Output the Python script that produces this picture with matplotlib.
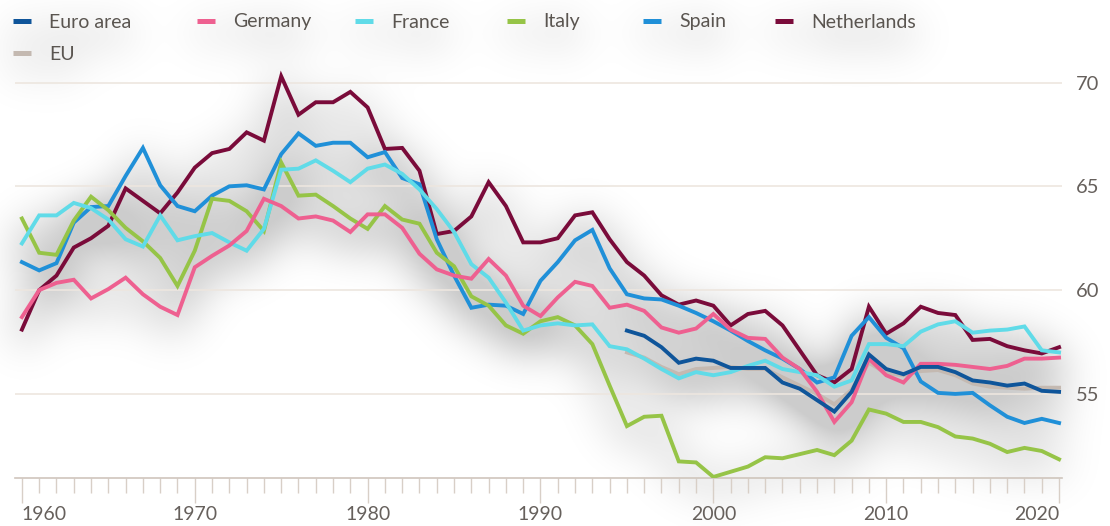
import matplotlib
matplotlib.use('Agg')
import matplotlib.pyplot as plt
from matplotlib.lines import Line2D
from matplotlib.ticker import MultipleLocator
import numpy as np

plt.rcParams['font.family'] = ['Lato', 'DejaVu Sans']

# ---------------------------------------------------------------------------
# dados
# ---------------------------------------------------------------------------
anos = list(range(1960, 2021))
anos_euro = list(range(1995, 2021))

netherlands = [58.1, 60.0, 60.7, 62.05, 62.5, 63.1, 64.9, 64.3, 63.7, 64.7,
               65.9, 66.6, 66.8, 67.6, 67.2, 70.3, 68.45, 69.05, 69.05, 69.55,
               68.8, 66.8, 66.85, 65.75, 62.7, 62.85, 63.55, 65.2, 64.05, 62.3,
               62.3, 62.5, 63.6, 63.75, 62.45, 61.35, 60.7, 59.75, 59.3, 59.5,
               59.25, 58.3, 58.85, 59.0, 58.3, 57.1, 55.9, 55.55, 56.2, 59.2,
               57.9, 58.4, 59.2, 58.9, 58.8, 57.6, 57.65, 57.3, 57.1, 56.95, 57.25]

spain = [61.35, 60.95, 61.3, 63.25, 64.0, 64.05, 65.5, 66.85, 65.05, 64.05,
         63.8, 64.55, 65.0, 65.05, 64.85, 66.55, 67.55, 66.95, 67.1, 67.1,
         66.4, 66.65, 65.4, 65.1, 62.45, 60.7, 59.15, 59.3, 59.25, 58.85,
         60.45, 61.35, 62.4, 62.9, 61.05, 59.8, 59.6, 59.55, 59.25, 58.9,
         58.5, 58.05, 57.55, 57.1, 56.7, 56.2, 55.55, 55.8, 57.8, 58.7,
         57.7, 57.2, 55.6, 55.05, 55.0, 55.05, 54.45, 53.9, 53.6, 53.8, 53.6]

italy = [63.45, 61.8, 61.7, 63.35, 64.5, 63.85, 63.0, 62.35, 61.55, 60.2,
         61.9, 64.4, 64.3, 63.8, 62.85, 66.15, 64.55, 64.6, 64.05, 63.45,
         62.95, 64.05, 63.4, 63.2, 61.8, 61.15, 59.7, 59.25, 58.3, 57.9,
         58.5, 58.7, 58.3, 57.4, 55.4, 53.45, 53.9, 53.95, 51.75, 51.7,
         51.0, 51.25, 51.5, 51.95, 51.9, 52.1, 52.3, 52.05, 52.75, 54.25,
         54.05, 53.65, 53.65, 53.4, 52.95, 52.85, 52.6, 52.2, 52.4, 52.25, 51.85]

france = [62.25, 63.6, 63.6, 64.2, 63.95, 63.4, 62.45, 62.1, 63.6, 62.4,
          62.6, 62.75, 62.3, 61.9, 62.95, 65.8, 65.85, 66.25, 65.75, 65.2,
          65.85, 66.05, 65.6, 64.85, 63.9, 62.8, 61.25, 60.6, 59.4, 58.05,
          58.3, 58.4, 58.3, 58.35, 57.3, 57.15, 56.7, 56.2, 55.75, 56.05,
          55.9, 56.05, 56.35, 56.6, 56.2, 56.05, 55.9, 55.35, 55.65, 57.4,
          57.4, 57.3, 58.0, 58.35, 58.5, 57.95, 58.05, 58.1, 58.25, 57.1, 57.0]

germany = [58.7, 60.0, 60.35, 60.5, 59.6, 60.05, 60.6, 59.8, 59.2, 58.8,
           61.1, 61.65, 62.15, 62.85, 64.4, 64.05, 63.45, 63.55, 63.35, 62.8,
           63.65, 63.65, 63.0, 61.75, 61.0, 60.7, 60.55, 61.5, 60.7, 59.25,
           58.75, 59.65, 60.4, 60.2, 59.15, 59.3, 59.0, 58.2, 57.95, 58.15,
           58.85, 58.1, 57.7, 57.65, 56.75, 56.2, 55.1, 53.65, 54.6, 56.7,
           55.9, 55.55, 56.45, 56.45, 56.4, 56.3, 56.2, 56.35, 56.7, 56.7, 56.75]

euro_area = [58.05, 57.8, 57.25, 56.5, 56.7, 56.6, 56.25, 56.25, 56.25, 55.55,
             55.25, 54.7, 54.15, 55.1, 56.9, 56.2, 55.95, 56.3, 56.3, 56.05,
             55.65, 55.55, 55.4, 55.5, 55.15, 55.1]

eu = [57.0, 56.75, 56.3, 55.95, 56.2, 56.25, 56.3, 56.2, 56.2, 55.8,
      55.4, 55.0, 54.5, 55.2, 56.5, 56.0, 55.9, 56.1, 56.15, 55.9,
      55.5, 55.35, 55.3, 55.25, 55.3, 55.3]

y_ticks = [55, 60, 65, 70]
x_ticks = [1960, 1970, 1980, 1990, 2000, 2010, 2020]

# ---------------------------------------------------------------------------
# estilo
# ---------------------------------------------------------------------------
cores = {
    'Euro area': '#0f559a',
    'Germany': '#ee6090',
    'France': '#60dbe8',
    'Italy': '#96c447',
    'Spain': '#2090d8',
    'Netherlands': '#7a0b3a',
    'EU': '#c4b9b1',
}
cor_texto = '#66605c'
cor_grade = '#ede6df'

series = [
    ('EU', anos_euro, eu),
    ('Netherlands', anos, netherlands),
    ('Spain', anos, spain),
    ('Italy', anos, italy),
    ('France', anos, france),
    ('Germany', anos, germany),
    ('Euro area', anos_euro, euro_area),
]

legenda = [('Euro area', 13, 22), ('Germany', 197, 22), ('France', 355, 22),
           ('Italy', 507, 22), ('Spain', 643, 22), ('Netherlands', 775, 22),
           ('EU', 13, 54)]

W, H = 1110, 526
RECT = [15 / W, 1 - 478 / H, (1062 - 15) / W, (478 - 68) / H]


def desenhar_linhas(fig, ax, preto=False):
    for i, (nome, xs, ys) in enumerate(series):
        ax.plot(xs, ys, color='black' if preto else cores[nome], linewidth=2.8,
                solid_joinstyle='miter', zorder=3 + i)
    ax.set_xlim(1959.6, 2020.17)
    ax.set_ylim(50.95, 70.7)
    for nome, px, py in legenda:
        h = Line2D([], [], color='black' if preto else cores[nome],
                   linewidth=3.6, solid_capstyle='butt')
        fig.legend([h], [nome], loc='center left',
                   bbox_to_anchor=(px / W, 1 - py / H), frameon=False,
                   borderpad=0, borderaxespad=0, handlelength=0.9,
                   handletextpad=0.95, fontsize=14,
                   labelcolor='black' if preto else '#5a5550')


def desfocar(img, sigma):
    h, w = img.shape
    fy = np.fft.fftfreq(h)
    fx = np.fft.fftfreq(w)
    ky = np.exp(-0.5 * (2 * np.pi * fy * sigma) ** 2)
    kx = np.exp(-0.5 * (2 * np.pi * fx * sigma) ** 2)
    return np.real(np.fft.ifft2(np.fft.fft2(img) * ky[:, None] * kx[None, :]))


# --- máscara para a sombra difusa (como um drop-shadow) ---
fig_m = plt.figure(figsize=(W / 100, H / 100), dpi=100)
ax_m = fig_m.add_axes(RECT)
ax_m.axis('off')
desenhar_linhas(fig_m, ax_m, preto=True)
fig_m.canvas.draw()
buf = np.asarray(fig_m.canvas.buffer_rgba()).astype(float)
plt.close(fig_m)
mascara = 1.0 - buf[..., 0] / 255.0

pad = 100
grande = np.zeros((H + 2 * pad, W + 2 * pad))
desloc = 12
grande[pad + desloc:pad + desloc + H, pad:pad + W] = mascara
borrada = desfocar(grande, 22)[pad:pad + H, pad:pad + W]
alfa = np.clip(borrada * 0.85, 0, 0.2)
sombra = np.zeros((H, W, 4))
sombra[..., 3] = alfa

# --- figura final ---
fig = plt.figure(figsize=(W / 100, H / 100), dpi=100)
fig.patch.set_facecolor('#ffffff')
fig.figimage(sombra, xo=0, yo=0, origin='upper', zorder=-1)
ax = fig.add_axes(RECT)
ax.set_facecolor('none')

ax.set_yticks(y_ticks)
ax.yaxis.tick_right()
ax.grid(axis='y', color=cor_grade, linewidth=1.2, zorder=0)
ax.tick_params(axis='y', length=0, pad=10, labelsize=14.5, labelcolor=cor_texto)

desenhar_linhas(fig, ax)

ax.set_xticks(x_ticks)
ax.xaxis.set_minor_locator(MultipleLocator(1))
ax.tick_params(axis='x', which='major', length=18, width=1, color='#d8cfc7',
               pad=2, labelsize=14, labelcolor=cor_texto)
ax.tick_params(axis='x', which='minor', length=11, width=1, color='#d8cfc7')
rotulos = ax.get_xticklabels()
rotulos[0].set_horizontalalignment('left')
rotulos[-1].set_horizontalalignment('right')

for lado in ['top', 'right', 'left']:
    ax.spines[lado].set_visible(False)
ax.spines['bottom'].set_color('#cfc5bc')
ax.spines['bottom'].set_linewidth(1.2)

fig.savefig('out.png', dpi=100, facecolor=fig.get_facecolor())
